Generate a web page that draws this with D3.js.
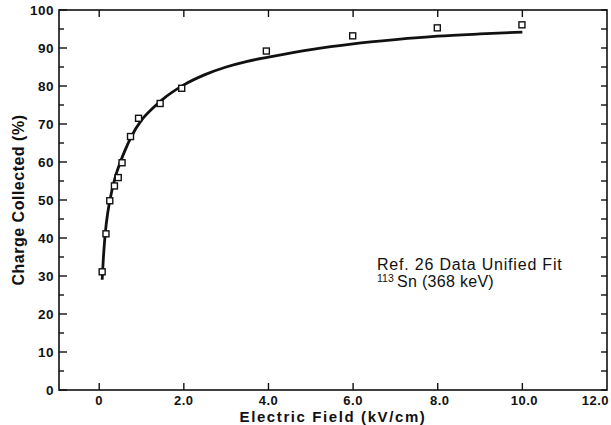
<!DOCTYPE html>
<html><head><meta charset="utf-8">
<script src="https://cdn.jsdelivr.net/npm/d3@7"></script>
<style>body{margin:0;background:#fff}svg{display:block}</style>
</head><body>
<svg id="c" width="611" height="425"></svg>
<script>
const dataX = [0.07,0.16,0.25,0.36,0.45,0.54,0.74,0.93,1.44,1.95,3.95,5.99,7.99,9.99];
const dataY = [31.1,41.1,49.8,53.7,55.9,59.8,66.7,71.5,75.4,79.4,89.2,93.2,95.3,96.1];
const fitX = [0.07,0.1,0.15,0.2,0.3,0.4,0.5,0.6,0.75,1.0,1.25,1.5,2.0,2.5,3.0,3.5,4.0,5.0,6.0,7.0,8.0,9.0,10.0];
const fitY = [29,35,42,46.5,52.5,56.8,60,62.8,66.5,71,74,76.5,80.3,83,85,86.5,87.6,89.6,91.1,92.2,93.1,93.7,94.2];
const xTicks = [0,2,4,6,8,10,12];
const xTickLabels = ["0","2.0","4.0","6.0","8.0","10.0","12.0"];
const yTicks = [0,10,20,30,40,50,60,70,80,90,100];
const yMinor = [5,15,25,35,45,55,65,75,85,95];
const annot1 = "Ref. 26 Data Unified Fit";
const annotSup = "113";
const annot2 = "Sn (368 keV)";

const svg = d3.select("#c");
const L=59,R=607,T=10,B=390;
const x = d3.scaleLinear().domain([-0.95,12]).range([L,R]);
const y = d3.scaleLinear().domain([0,100]).range([B,T]);
const font = "'Liberation Sans', Arial, Helvetica, sans-serif";

// frame
svg.append("rect").attr("x",L).attr("y",T).attr("width",R-L).attr("height",B-T)
  .attr("fill","none").attr("stroke","#111").attr("stroke-width",1.6);

const g = svg.append("g").attr("stroke","#111").attr("stroke-width",1.4);
// x ticks bottom & top (inward)
xTicks.slice(0,6).forEach(v=>{
  g.append("line").attr("x1",x(v)).attr("x2",x(v)).attr("y1",B).attr("y2",B-7);
  g.append("line").attr("x1",x(v)).attr("x2",x(v)).attr("y1",T).attr("y2",T+7);
});
// y ticks left & right
yTicks.forEach(v=>{
  g.append("line").attr("x1",L).attr("x2",L+8).attr("y1",y(v)).attr("y2",y(v));
  g.append("line").attr("x1",R).attr("x2",R-6).attr("y1",y(v)).attr("y2",y(v));
});
yMinor.forEach(v=>{
  g.append("line").attr("x1",L).attr("x2",L+5).attr("y1",y(v)).attr("y2",y(v));
  g.append("line").attr("x1",R).attr("x2",R-6).attr("y1",y(v)).attr("y2",y(v));
});

// tick labels
svg.append("g").selectAll("text").data(xTicks).join("text")
  .attr("x",d=>d===12 ? 609 : x(d)+(d>=8?2:0)).attr("y",B+15)
  .attr("text-anchor",d=>d===12?"end":"middle")
  .attr("font-family",font).attr("font-weight","bold").attr("font-size",13)
  .attr("letter-spacing",0.5).attr("fill","#111")
  .text((d,i)=>xTickLabels[i]);
svg.append("g").selectAll("text").data(yTicks).join("text")
  .attr("x",L-5).attr("y",d=>y(d)+5).attr("text-anchor","end")
  .attr("font-family",font).attr("font-weight","bold").attr("font-size",13.5)
  .attr("letter-spacing",0.5).attr("fill","#111")
  .text(d=>d);

// axis titles
svg.append("text").attr("x",333).attr("y",421.5).attr("text-anchor","middle")
  .attr("font-family",font).attr("font-weight","bold").attr("font-size",15)
  .attr("letter-spacing",1.6).attr("fill","#111").text("Electric Field (kV/cm)");
svg.append("text").attr("transform","translate(24,200) rotate(-90)").attr("text-anchor","middle")
  .attr("font-family",font).attr("font-weight","bold").attr("font-size",16)
  .attr("letter-spacing",0.5).attr("fill","#111").text("Charge Collected (%)");

// fit curve
const line = d3.line().x(d=>x(d[0])).y(d=>y(d[1])).curve(d3.curveMonotoneX);
svg.append("path").datum(fitX.map((v,i)=>[v,fitY[i]])).attr("d",line)
  .attr("fill","none").attr("stroke","#111").attr("stroke-width",2.8);

// data squares
svg.append("g").selectAll("rect").data(dataX.map((v,i)=>[v,dataY[i]])).join("rect")
  .attr("x",d=>x(d[0])-3).attr("y",d=>y(d[1])-3).attr("width",6).attr("height",6)
  .attr("fill","#fff").attr("stroke","#111").attr("stroke-width",1.4);

// annotation
svg.append("text").attr("x",377).attr("y",270).attr("font-family",font)
  .attr("font-size",16).attr("letter-spacing",0.8).attr("fill","#111").text(annot1);
svg.append("text").attr("x",377).attr("y",282).attr("font-family",font)
  .attr("font-size",10.5).attr("fill","#111").text(annotSup);
svg.append("text").attr("x",397).attr("y",287).attr("font-family",font)
  .attr("font-size",16).attr("letter-spacing",0.3).attr("fill","#111").text(annot2);
</script>
</body></html>
